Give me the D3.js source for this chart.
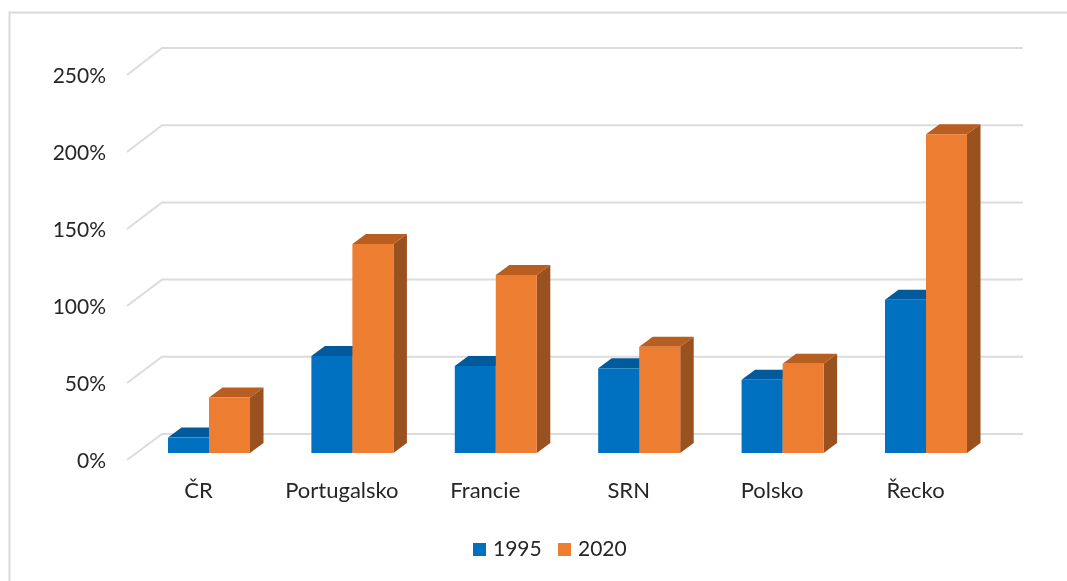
<!DOCTYPE html>
<html>
<head>
<meta charset="utf-8">
<script src="https://d3js.org/d3.v7.min.js"></script>
<style>
	html, body { margin: 0; padding: 0; background: #fff; }
	svg { display: block; filter: blur(0.45px); }
	text { font-family: Lato, "Open Sans", sans-serif; fill: #262626; font-size: 21px; }
</style>
</head>
<body>
<div id="container"></div>
<script>
	const categories = ["ČR", "Portugalsko", "Francie", "SRN", "Polsko", "Řecko"];
	const seriesNames = ["1995", "2020"];
	const values1995 = [10, 63, 56.5, 55, 47.5, 99.5];
	const values2020 = [36, 135.7, 115.6, 69, 58, 207];
	const tickValues = [0, 50, 100, 150, 200, 250];

	const colors = { "1995": "#0070c0", "2020": "#ed7d31" };
	const topColors = { "1995": "#005a9c", "2020": "#b85e20" };
	const sideColors = { "1995": "#004a80", "2020": "#9a5120" };

	const width = 1067;
	const height = 581;

	const svg = d3.select("#container").append("svg")
		.attr("width", width)
		.attr("height", height);

	// chart frame, only top and left show up in the picture
	svg.append("path")
		.attr("d", "M1067,12.5H9.5V581")
		.attr("fill", "none")
		.attr("stroke", "#d9d9d9")
		.attr("stroke-width", 2);

	// scales: front of the side wall, back wall and the bars sit at different depths
	const yFront = d3.scaleLinear().domain([0, 250]).range([460, 75]);
	const yBack = d3.scaleLinear().domain([0, 250]).range([434, 48]);
	const yBar = d3.scaleLinear().domain([0, 250]).range([453, 68]);

	const x = d3.scaleBand()
		.domain(categories)
		.range([137.3, 997.7])
		.paddingInner(0.428)
		.paddingOuter(0.214);
	const xSeries = d3.scaleBand()
		.domain(seriesNames)
		.range([0, x.bandwidth()]);

	// gridlines
	svg.append("g").selectAll("path")
		.data(tickValues)
		.enter()
		.append("path")
			.attr("d", function(d) {
				return "M127," + yFront(d) + "L162," + yBack(d) + "H1023";
			})
			.attr("fill", "none")
			.attr("stroke", "#dcdcdc")
			.attr("stroke-width", 2);

	// y axis labels
	svg.append("g")
		.attr("transform", "translate(106,0)")
		.call(d3.axisLeft(yFront).tickValues(tickValues).tickSize(0).tickPadding(0)
			.tickFormat(function(d) { return d + "%"; }))
		.call(function(g) { g.select(".domain").remove(); })
		.selectAll("text")
			.style("font-size", "21px")
			.style("font-family", "Lato, 'Open Sans', sans-serif")
			.attr("dy", "0.32em")
			.attr("y", 1);

	// 3d bars
	const depthX = 13.5;
	const depthY = 10;
	const bars = [];
	categories.forEach(function(c, i) {
		bars.push({ category: c, series: "1995", value: values1995[i] });
		bars.push({ category: c, series: "2020", value: values2020[i] });
	});

	const bar = svg.append("g").selectAll("g")
		.data(bars)
		.enter()
		.append("g")
			.attr("transform", function(d) {
				return "translate(" + (x(d.category) + xSeries(d.series)) + ",0)";
			});

	const w = xSeries.bandwidth();

	bar.append("path")
		.attr("fill", function(d) { return topColors[d.series]; })
		.attr("d", function(d) {
			const t = yBar(d.value);
			return "M0," + t + "L" + depthX + "," + (t - depthY) + "H" + (w + depthX) + "L" + w + "," + t + "Z";
		});
	bar.append("path")
		.attr("fill", function(d) { return sideColors[d.series]; })
		.attr("d", function(d) {
			const t = yBar(d.value);
			const b = yBar(0);
			return "M" + w + "," + t + "L" + (w + depthX) + "," + (t - depthY) + "V" + (b - depthY) + "L" + w + "," + b + "Z";
		});
	bar.append("rect")
		.attr("x", 0)
		.attr("y", function(d) { return yBar(d.value); })
		.attr("width", w)
		.attr("height", function(d) { return yBar(0) - yBar(d.value); })
		.attr("fill", function(d) { return colors[d.series]; });

	// category labels, they sit a bit left of the bars like in the original
	svg.append("g").selectAll("text")
		.data(categories)
		.enter()
		.append("text")
			.attr("x", function(d) { return x(d) + x.bandwidth() / 2 - 10.5; })
			.attr("y", 498)
			.attr("text-anchor", "middle")
			.style("font-size", "22px")
			.text(function(d) { return d; });

	// legend
	const legendX = d3.scaleOrdinal().domain(seriesNames).range([473, 558]);
	const legend = svg.append("g").selectAll("g")
		.data(seriesNames)
		.enter()
		.append("g")
			.attr("transform", function(d) { return "translate(" + legendX(d) + ",543)"; });
	legend.append("rect")
		.attr("width", 13)
		.attr("height", 13)
		.attr("fill", function(d) { return colors[d]; });
	legend.append("text")
		.attr("x", 20)
		.attr("y", 13)
		.text(function(d) { return d; });
</script>
</body>
</html>
